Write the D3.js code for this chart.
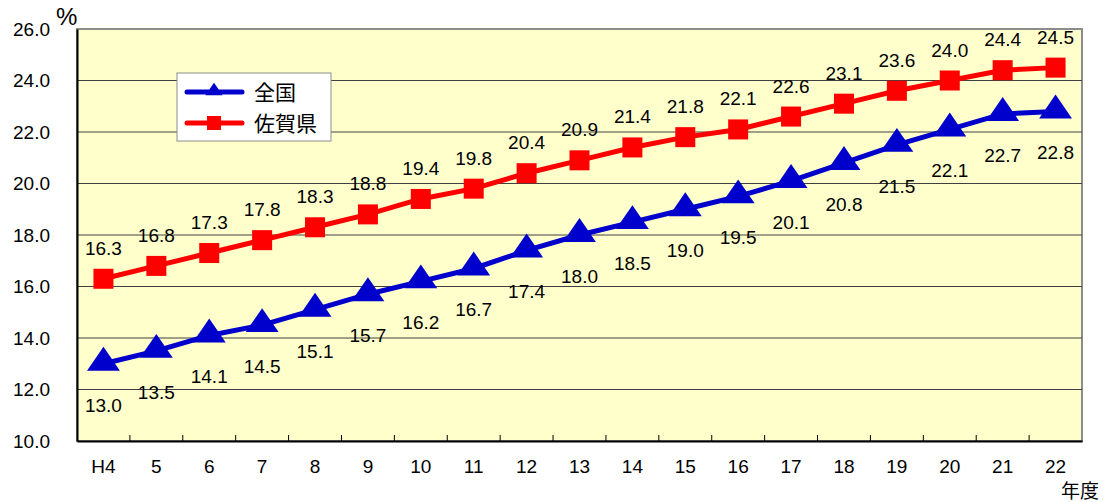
<!DOCTYPE html>
<html>
<head>
<meta charset="utf-8">
<script src="https://cdn.jsdelivr.net/npm/d3@7"></script>
<style>
  body { margin: 0; background: #fff; }
  text { font-family: "Liberation Sans", Arial, sans-serif; fill: #000; }
  .jp { font-family: "Noto Sans CJK JP", sans-serif; }
</style>
</head>
<body>
<div id="chart"></div>
<script>
const categories = ["H4", "5", "6", "7", "8", "9", "10", "11", "12", "13", "14", "15", "16", "17", "18", "19", "20", "21", "22"];
const zenkoku = [13.0, 13.5, 14.1, 14.5, 15.1, 15.7, 16.2, 16.7, 17.4, 18.0, 18.5, 19.0, 19.5, 20.1, 20.8, 21.5, 22.1, 22.7, 22.8];
const saga = [16.3, 16.8, 17.3, 17.8, 18.3, 18.8, 19.4, 19.8, 20.4, 20.9, 21.4, 21.8, 22.1, 22.6, 23.1, 23.6, 24.0, 24.4, 24.5];
const yTicks = [10, 12, 14, 16, 18, 20, 22, 24, 26];
const seriesNames = ["全国", "佐賀県"];

const width = 1105, height = 502;
const margin = { top: 29, right: 23, bottom: 61, left: 77 };

const svg = d3.select("#chart")
    .append("svg")
    .attr("width", width)
    .attr("height", height);

// scales
const x = d3.scaleBand()
    .domain(categories)
    .range([margin.left, width - margin.right])
    .padding(0);
const y = d3.scaleLinear()
    .domain([10, 26])
    .range([height - margin.bottom, margin.top]);
const cx = c => x(c) + x.bandwidth() / 2;

// plot background
svg.append("rect")
    .attr("x", x.range()[0])
    .attr("y", y(26))
    .attr("width", x.range()[1] - x.range()[0])
    .attr("height", y(10) - y(26))
    .attr("fill", "#ffffcc")
    .attr("stroke", "#8c8c8c")
    .attr("stroke-width", 2);

// gridlines
svg.append("g")
    .selectAll("line")
    .data(yTicks.filter(t => t > 10 && t < 26))
    .join("line")
    .attr("x1", x.range()[0])
    .attr("x2", x.range()[1])
    .attr("y1", d => y(d))
    .attr("y2", d => y(d))
    .attr("stroke", "#404040")
    .attr("stroke-width", 1);

// Y axis
const yAxis = svg.append("g")
    .attr("transform", `translate(${margin.left},0)`)
    .call(d3.axisLeft(y).tickValues(yTicks).tickFormat(d3.format(".1f")).tickSize(0).tickPadding(27));
yAxis.select(".domain").attr("stroke", "#000").attr("stroke-width", 2);
yAxis.selectAll("text").style("font-size", "19px").attr("font-family", null);

// X axis
const xAxis = svg.append("g")
    .attr("transform", `translate(0,${y(10)})`)
    .call(d3.axisBottom(x).tickSize(0).tickPadding(19));
xAxis.select(".domain").attr("stroke", "#000").attr("stroke-width", 2);
xAxis.selectAll("text").style("font-size", "19px").attr("font-family", null);

// category boundary ticks (pointing inward)
svg.append("g")
    .selectAll("line")
    .data(categories.slice(1))
    .join("line")
    .attr("x1", d => x(d))
    .attr("x2", d => x(d))
    .attr("y1", y(10))
    .attr("y2", y(10) - 6)
    .attr("stroke", "#000")
    .attr("stroke-width", 1);

// axis titles
svg.append("text")
    .attr("x", 56).attr("y", 25)
    .style("font-size", "24px")
    .text("%");
svg.append("text")
    .attr("class", "jp")
    .attr("x", 1099).attr("y", 498)
    .attr("text-anchor", "end")
    .style("font-size", "19px")
    .text("年度");

const line = d3.line()
    .x((d, i) => cx(categories[i]))
    .y(d => y(d));

const tri = d3.symbol().type(d3.symbolTriangle);

// 佐賀県 (red)
svg.append("path")
    .datum(saga)
    .attr("d", line)
    .attr("fill", "none")
    .attr("stroke", "#ff0000")
    .attr("stroke-width", 5);
svg.append("g")
    .selectAll("rect")
    .data(saga)
    .join("rect")
    .attr("x", (d, i) => cx(categories[i]) - 10)
    .attr("y", d => y(d) - 10)
    .attr("width", 20)
    .attr("height", 20)
    .attr("fill", "#ff0000");
svg.append("g")
    .selectAll("text")
    .data(saga)
    .join("text")
    .attr("x", (d, i) => cx(categories[i]))
    .attr("y", d => y(d) - 24)
    .attr("text-anchor", "middle")
    .style("font-size", "19px")
    .text(d => d.toFixed(1));

// 全国 (blue)
svg.append("path")
    .datum(zenkoku)
    .attr("d", line)
    .attr("fill", "none")
    .attr("stroke", "#0000cc")
    .attr("stroke-width", 5);
svg.append("g")
    .selectAll("path")
    .data(zenkoku)
    .join("path")
    .attr("d", tri.size(300))
    .attr("transform", (d, i) => `translate(${cx(categories[i])},${y(d) - 1}) scale(1.25,1.05)`)
    .attr("fill", "#0000cc");
svg.append("g")
    .selectAll("text")
    .data(zenkoku)
    .join("text")
    .attr("x", (d, i) => cx(categories[i]))
    .attr("y", d => y(d) + 48)
    .attr("text-anchor", "middle")
    .style("font-size", "19px")
    .text(d => d.toFixed(1));

// legend
const legend = svg.append("g").attr("transform", "translate(177,73)");
legend.append("rect")
    .attr("width", 154)
    .attr("height", 68)
    .attr("fill", "#fff")
    .attr("stroke", "#8c8c8c")
    .attr("stroke-width", 1);
const legColors = ["#0000cc", "#ff0000"];
seriesNames.forEach((name, i) => {
    const ly = 19 + i * 31;
    legend.append("line")
        .attr("x1", 10).attr("x2", 65)
        .attr("y1", ly).attr("y2", ly)
        .attr("stroke", legColors[i])
        .attr("stroke-width", 5)
        .attr("stroke-linecap", "round");
    if (i === 0) {
        legend.append("path")
            .attr("d", d3.symbol().type(d3.symbolTriangle).size(90)())
            .attr("transform", `translate(37,${ly - 1}) scale(1.2,1)`)
            .attr("fill", legColors[i]);
    } else {
        legend.append("rect")
            .attr("x", 30).attr("y", ly - 7)
            .attr("width", 14).attr("height", 14)
            .attr("fill", legColors[i]);
    }
    legend.append("text")
        .attr("class", "jp")
        .attr("x", 77)
        .attr("y", ly + 8)
        .style("font-size", "21px")
        .text(name);
});
</script>
</body>
</html>
